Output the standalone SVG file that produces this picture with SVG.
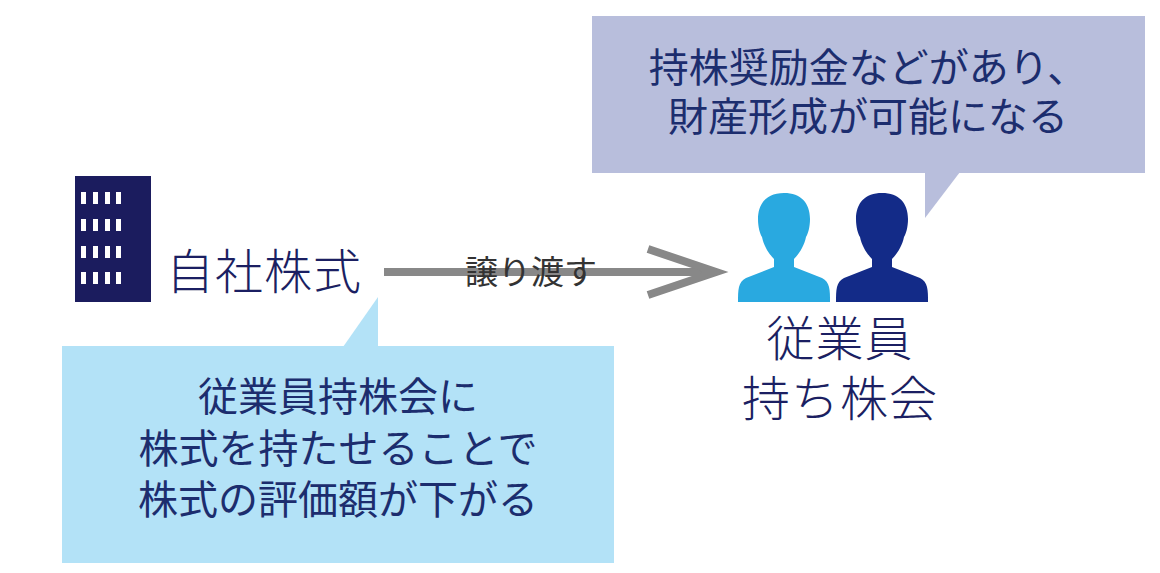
<svg xmlns="http://www.w3.org/2000/svg" width="1160" height="573" viewBox="0 0 1160 573">
<style>
text{font-family:"Noto Sans CJK JP","Noto Sans",sans-serif;text-anchor:middle}
.b{font-size:40px;fill:#1c2d6e}
.l{font-size:48px;fill:#1b1f62;font-weight:300;letter-spacing:1px}
.w{fill:#fff}
</style>
<rect width="1160" height="573" fill="#fff"/>
<g id="company">
<rect x="75" y="176" width="76" height="126" fill="#1b1c5e"/>
<g class="w">
<rect x="81" y="192" width="5" height="12"/><rect x="93" y="192" width="5" height="12"/><rect x="105" y="192" width="5" height="12"/><rect x="116" y="192" width="5" height="12"/>
<rect x="81" y="219" width="5" height="12"/><rect x="93" y="219" width="5" height="12"/><rect x="105" y="219" width="5" height="12"/><rect x="116" y="219" width="5" height="12"/>
<rect x="81" y="246" width="5" height="12"/><rect x="93" y="246" width="5" height="12"/><rect x="105" y="246" width="5" height="12"/><rect x="116" y="246" width="5" height="12"/>
<rect x="81" y="272" width="5" height="12"/><rect x="93" y="272" width="5" height="12"/><rect x="105" y="272" width="5" height="12"/><rect x="116" y="272" width="5" height="12"/>
</g>
<text class="l" x="264" y="289">自社株式</text>
</g>
<g id="connectors">
<line x1="384" y1="272" x2="716" y2="272" stroke="#888" stroke-width="8"/>
<polyline points="648,249 716,272 648,295" fill="none" stroke="#888" stroke-width="8"/>
<text x="531" y="284" style="font-size:33px;fill:#333">譲り渡す</text>
</g>
<g id="members">
<path d="M784,193 c-17,0 -26,10 -26,26 c0,8 2,15 4,18 c2,10 8,18 12,22 v8 l-28,11 c-8,4 -8,12 -8,24 h92 c0,-12 0,-20 -8,-24 l-28,-11 v-8 c4,-4 10,-12 12,-22 c2,-3 4,-10 4,-18 c0,-16 -9,-26 -26,-26z" fill="#29a9e0"/>
<path d="M882,193 c-17,0 -26,10 -26,26 c0,8 2,15 4,18 c2,10 8,18 12,22 v8 l-28,11 c-8,4 -8,12 -8,24 h92 c0,-12 0,-20 -8,-24 l-28,-11 v-8 c4,-4 10,-12 12,-22 c2,-3 4,-10 4,-18 c0,-16 -9,-26 -26,-26z" fill="#132b88"/>
<text class="l" x="840" y="356">従業員</text>
<text class="l" x="840" y="416">持ち株会</text>
</g>
<g id="bubble-top">
<rect x="592" y="16" width="553" height="157" fill="#b8bedc"/>
<polygon points="925,172 960,172 925,218" fill="#b8bedc"/>
<text class="b" x="868" y="82">持株奨励金などがあり、</text>
<text class="b" x="868" y="131">財産形成が可能になる</text>
</g>
<g id="bubble-bottom">
<rect x="62" y="346" width="552" height="217" fill="#b3e2f7"/>
<polygon points="343,347 378,347 378,297" fill="#b3e2f7"/>
<text class="b" x="338" y="411">従業員持株会に</text>
<text class="b" x="338" y="463">株式を持たせることで</text>
<text class="b" x="338" y="514">株式の評価額が下がる</text>
</g>
</svg>
